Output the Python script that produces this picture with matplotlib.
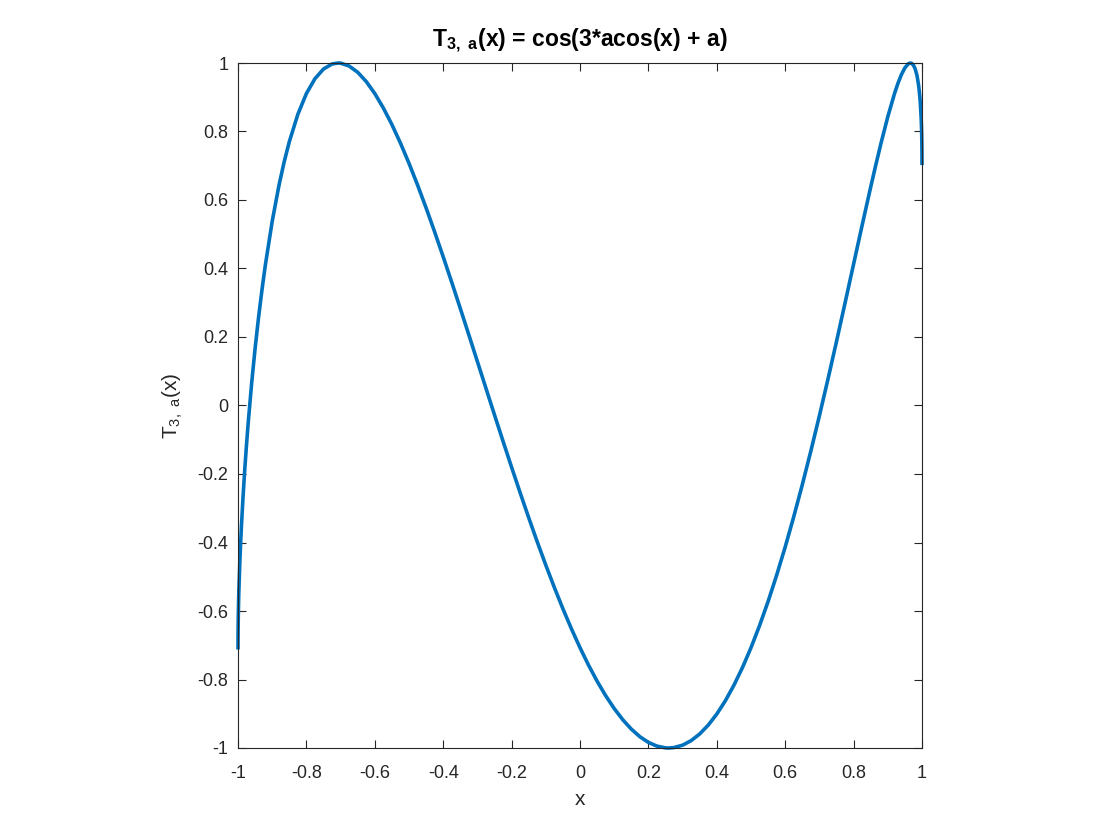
import matplotlib
matplotlib.use("Agg")
import matplotlib.pyplot as plt

plt.rcParams["font.family"] = ["Liberation Sans", "DejaVu Sans"]
plt.rcParams["mathtext.fontset"] = "custom"
plt.rcParams["mathtext.rm"] = "Liberation Sans"
plt.rcParams["mathtext.bf"] = "Liberation Sans:bold"
plt.rcParams["axes.unicode_minus"] = False

# values
x_vals = [-1.0, -0.9999, -0.9995, -0.999, -0.998, -0.9975, -0.995, -0.993, -0.99, -0.985,
          -0.98, -0.975, -0.97, -0.96, -0.95, -0.94, -0.93, -0.92, -0.9, -0.88,
          -0.865, -0.85, -0.825, -0.8, -0.775, -0.75, -0.725, -0.7071, -0.7, -0.675,
          -0.65, -0.625, -0.6, -0.575, -0.55, -0.525, -0.5, -0.475, -0.45, -0.425,
          -0.4, -0.375, -0.35, -0.325, -0.3, -0.275, -0.25, -0.225, -0.2, -0.175,
          -0.15, -0.125, -0.1, -0.075, -0.05, -0.025, 0.0, 0.025, 0.05, 0.075,
          0.1, 0.125, 0.15, 0.175, 0.2, 0.225, 0.25, 0.2588, 0.275, 0.3,
          0.325, 0.35, 0.375, 0.4, 0.425, 0.45, 0.475, 0.5, 0.525, 0.55,
          0.575, 0.6, 0.625, 0.65, 0.675, 0.7, 0.725, 0.75, 0.775, 0.8,
          0.825, 0.85, 0.865, 0.88, 0.9, 0.92, 0.93, 0.94, 0.95, 0.96,
          0.9659, 0.97, 0.975, 0.98, 0.985, 0.99, 0.993, 0.995, 0.9975, 0.998,
          0.999, 0.9995, 0.9999, 1.0]
y_vals = [-0.7071, -0.6765, -0.6369, -0.6062, -0.5610, -0.5423, -0.4665, -0.4171, -0.3530, -0.2620,
          -0.1834, -0.1129, -0.0487, 0.0659, 0.1665, 0.2562, 0.3370, 0.4103, 0.5377, 0.6438,
          0.7114, 0.7701, 0.8502, 0.9108, 0.9542, 0.9824, 0.9971, 1.0, 0.9996, 0.9911,
          0.9729, 0.9458, 0.9108, 0.8686, 0.8202, 0.7661, 0.7071, 0.6438, 0.5769, 0.5068,
          0.4342, 0.3596, 0.2834, 0.2061, 0.1283, 0.0503, -0.0274, -0.1044, -0.1803, -0.2548,
          -0.3275, -0.3981, -0.4661, -0.5313, -0.5934, -0.6521, -0.7071, -0.7581, -0.8049, -0.8472,
          -0.8847, -0.9174, -0.9448, -0.9670, -0.9836, -0.9945, -0.9996, -1.0, -0.9987, -0.9917,
          -0.9785, -0.9590, -0.9331, -0.9008, -0.8621, -0.8168, -0.7652, -0.7071, -0.6427, -0.5721,
          -0.4955, -0.4130, -0.3248, -0.2313, -0.1329, -0.0300, 0.0768, 0.1869, 0.2993, 0.4130,
          0.5264, 0.6379, 0.7027, 0.7652, 0.8432, 0.9120, 0.9415, 0.9666, 0.9860, 0.9978,
          1.0, 0.9988, 0.9936, 0.9830, 0.9651, 0.9356, 0.9089, 0.8845, 0.8402, 0.8278,
          0.7953, 0.7709, 0.7365, 0.7071]

x_ticks = [-1, -0.8, -0.6, -0.4, -0.2, 0, 0.2, 0.4, 0.6, 0.8, 1]
tick_labels = ["-1", "-0.8", "-0.6", "-0.4", "-0.2", "0", "0.2", "0.4", "0.6", "0.8", "1"]

fig = plt.figure(figsize=(11.2, 8.4), dpi=100)
ax = fig.add_axes([238 / 1120, 1 - 748 / 840, 684 / 1120, 685 / 840])

ax.plot(x_vals, y_vals, color="#0072BD", linewidth=2.6, clip_on=False,
        solid_joinstyle="round")

ax.set_xlim(-1, 1)
ax.set_ylim(-1, 1)
ax.set_xticks(x_ticks)
ax.set_xticklabels(tick_labels)
ax.set_yticks(x_ticks)
ax.set_yticklabels(tick_labels)
ax.tick_params(direction="in", top=True, right=True, length=6, width=0.8,
               labelsize=13, colors="#262626")
ax.tick_params(axis="x", pad=12)
ax.tick_params(axis="y", pad=7)
for s in ax.spines.values():
    s.set_color("#262626")
    s.set_linewidth(0.8)

ax.set_title(r"T$_{\mathbf{3,\ a}}$(x) = cos(3*acos(x) + a)", fontsize=16.5,
             fontweight="bold", pad=12)
ax.set_xlabel("x", fontsize=15, color="#262626", labelpad=6)
ax.set_ylabel(r"T$_{\mathrm{3,\ a}}$(x)", fontsize=15, color="#262626", labelpad=9)

fig.savefig("out.png", dpi=100)
